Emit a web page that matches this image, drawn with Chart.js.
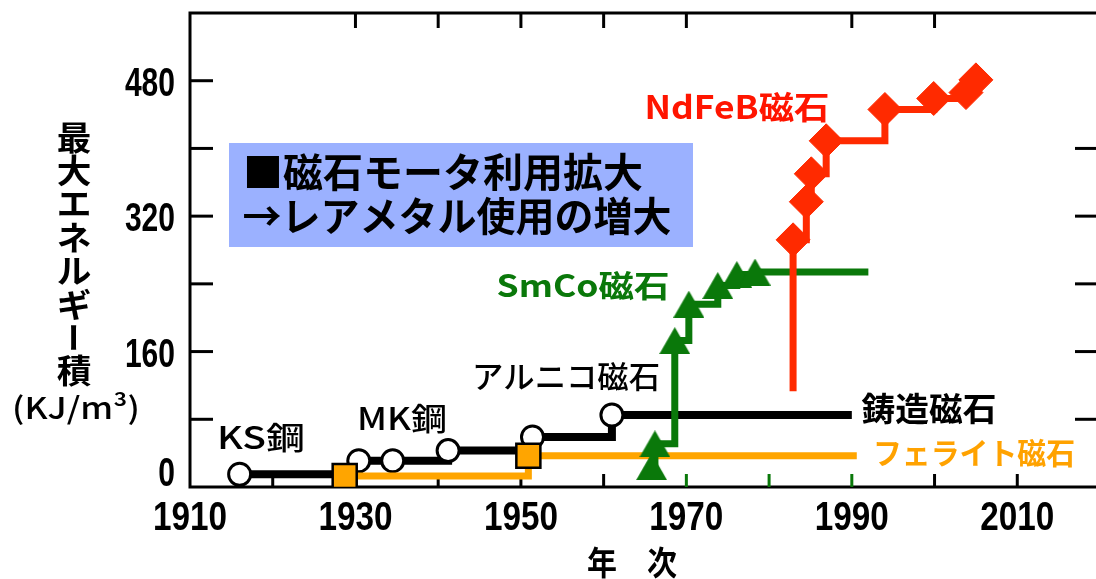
<!DOCTYPE html>
<html lang="ja">
<head>
<meta charset="utf-8">
<title>磁石の最大エネルギー積の推移</title>
<script src="https://cdn.jsdelivr.net/npm/chart.js@4.4.1/dist/chart.umd.min.js"></script>
<style>
  html, body { margin: 0; padding: 0; background: #fff; overflow: hidden; width: 1096px; height: 579px; }
  #magnetChart { display: block; }
</style>
</head>
<body>
<canvas id="magnetChart" width="1110" height="579"></canvas>
<script>
// --- Data ---
// 鋳造磁石 line: KS鋼, MK鋼, アルニコ ...
const castYears = [1916, 1930.4, 1934.5, 1941.2, 1951.4, 1961, 1990];
const castValues = [15, 31, 31, 43, 59, 85, 85];
// フェライト磁石
const ferriteYears = [1928.7, 1950.9, 1990.6];
const ferriteValues = [13, 37, 37];
// SmCo磁石
const smcoYears = [1965.8, 1966.2, 1968.6, 1970.3, 1973.8, 1976.1, 1978.3, 1992];
const smcoValues = [24, 51, 173, 216, 238, 251, 254, 254];
// NdFeB磁石
const ndfebYears = [1982.9, 1982.9, 1984.5, 1985.1, 1986.9, 1994, 1999.9, 2003.8, 2005];
const ndfebValues = [113, 292, 337, 370, 409, 446, 459, 466, 481];

// axis ticks
const xLabelYears = [1910, 1930, 1950, 1970, 1990, 2010];
const yLabelValues = [0, 160, 320, 480];
const leftTickValues = [80, 160, 240, 320, 400, 480];
const rightTickValues = [80, 160, 240, 320, 400];
const topTickYears = [1930, 1940, 1950, 1960, 1970, 1990, 2000];
const bottomTickYears = [1920, 1930, 1940, 1950, 1960, 1970, 1980, 1990, 2000, 2010];
const greenTickYears = [1970, 1980, 1990];

const JP = '"Noto Sans CJK JP", "Noto Sans", sans-serif';
const NUM = '"Liberation Sans", Arial, sans-serif';

const BLACK = '#000000';
const ORANGE = '#ffa500';
const GREEN = '#0a780a';
const RED = '#ff2a00';

// --- Helpers ---
function toPoints(xs, ys) {
    return xs.map((x, i) => ({ x: x, y: ys[i] }));
}

// triangle marker centred on its bounding box
function triangleMarker(w, h, color) {
    const c = document.createElement('canvas');
    c.width = w;
    c.height = h;
    const g = c.getContext('2d');
    g.fillStyle = color;
    g.beginPath();
    g.moveTo(w / 2, 0);
    g.lineTo(w, h);
    g.lineTo(0, h);
    g.closePath();
    g.fill();
    return c;
}

// draw text squeezed / stretched to width w; (x, y) anchor follows align / baseline
function fitText(ctx, text, x, y, w, font, color, align, baseline) {
    ctx.save();
    ctx.font = font;
    ctx.fillStyle = color;
    ctx.textAlign = align || 'center';
    ctx.textBaseline = baseline || 'middle';
    const m = ctx.measureText(text).width;
    ctx.translate(x, y);
    ctx.scale(w / m, 1);
    ctx.fillText(text, 0, 0);
    ctx.restore();
}

function tickLine(ctx, x1, y1, x2, y2) {
    ctx.beginPath();
    ctx.moveTo(x1, y1);
    ctx.lineTo(x2, y2);
    ctx.stroke();
}

function noPadding(s) {
    s.paddingLeft = 0;
    s.paddingRight = 0;
    s.paddingTop = 0;
    s.paddingBottom = 0;
}

// --- Plugins ---
const framePlugin = {
    id: 'frame',
    beforeDatasetsDraw(chart) {
        const { ctx, chartArea: a, scales: { x, y } } = chart;
        ctx.save();
        ctx.strokeStyle = BLACK;
        ctx.lineWidth = 3;
        ctx.strokeRect(a.left, a.top, a.right - a.left, a.bottom - a.top);
        leftTickValues.forEach(v => {
            const py = y.getPixelForValue(v);
            tickLine(ctx, a.left, py, a.left + 23, py);
        });
        rightTickValues.forEach(v => {
            const py = y.getPixelForValue(v);
            tickLine(ctx, a.right - 25, py, a.right, py);
        });
        topTickYears.forEach(v => {
            const px = x.getPixelForValue(v);
            tickLine(ctx, px, a.top, px, a.top + 15);
        });
        bottomTickYears.forEach(v => {
            const px = x.getPixelForValue(v);
            ctx.strokeStyle = greenTickYears.includes(v) ? GREEN : BLACK;
            tickLine(ctx, px, a.bottom, px, a.bottom - 13);
        });
        ctx.restore();

        // tick labels (narrow bold digits)
        xLabelYears.forEach(v => {
            fitText(ctx, String(v), x.getPixelForValue(v), a.bottom + 43, 74,
                'bold 40px ' + NUM, BLACK, 'center', 'alphabetic');
        });
        yLabelValues.forEach(v => {
            const s = String(v);
            const lift = v === 0 ? 16 : 0;
            fitText(ctx, s, a.left - 15, y.getPixelForValue(v) + 15 - lift, 16.7 * s.length,
                'bold 40px ' + NUM, BLACK, 'right', 'alphabetic');
        });
    }
};

const notesPlugin = {
    id: 'notes',
    afterDraw(chart) {
        const ctx = chart.ctx;

        // blue message box
        ctx.save();
        ctx.fillStyle = '#9bb1ff';
        ctx.fillRect(229, 143, 464, 104);
        ctx.restore();
        fitText(ctx, '■磁石モータ利用拡大', 443, 172, 400, 'bold 40px ' + JP, BLACK);
        fitText(ctx, '→レアメタル使用の増大', 457, 216, 429, 'bold 40px ' + JP, BLACK);

        // series labels
        fitText(ctx, 'KS鋼', 261, 437, 88, '500 31px ' + JP, BLACK);
        fitText(ctx, 'MK鋼', 402, 418, 90, '500 31px ' + JP, BLACK);
        fitText(ctx, 'アルニコ磁石', 566, 376, 188, '500 31px ' + JP, BLACK);
        fitText(ctx, 'SmCo磁石', 583, 285, 173, 'bold 31px ' + JP, GREEN);
        fitText(ctx, 'NdFeB磁石', 737, 107, 185, 'bold 32px ' + JP, '#ff1500');
        fitText(ctx, '鋳造磁石', 929, 408, 135, 'bold 33px ' + JP, BLACK);
        fitText(ctx, 'フェライト磁石', 974, 453, 202, 'bold 30px ' + JP, '#ffa200');

        // axis titles
        fitText(ctx, '年　次', 632, 562, 90, 'bold 33px ' + JP, BLACK);
        const chars = '最大エネルギー積'.split('');
        chars.forEach((ch, i) => {
            const cy = 137 + 33.4 * i;
            if (ch === 'ー') {
                ctx.save();
                ctx.translate(74, cy);
                ctx.rotate(Math.PI / 2);
                fitText(ctx, ch, 0, 0, 30, 'bold 33px ' + JP, BLACK);
                ctx.restore();
            } else {
                ctx.save();
                ctx.font = 'bold 33px ' + JP;
                const w = ctx.measureText(ch).width * 1.05;
                ctx.restore();
                fitText(ctx, ch, 74, cy, w, 'bold 33px ' + JP, BLACK);
            }
        });
        fitText(ctx, '(KJ/m³)', 76, 408, 128, '500 30px ' + JP, BLACK);
    }
};

// --- Chart ---
const canvas = document.getElementById('magnetChart');

new Chart(canvas, {
    type: 'line',
    data: {
        datasets: [{
            label: 'NdFeB磁石',
            data: toPoints(ndfebYears, ndfebValues),
            borderColor: RED,
            borderWidth: 7,
            stepped: 'before',
            pointStyle: 'rectRot',
            pointRadius: ndfebYears.map((v, i) => (i === 0 ? 0 : 17)),
            pointBackgroundColor: RED,
            pointBorderColor: RED,
            pointBorderWidth: 1
        }, {
            label: 'SmCo磁石',
            data: toPoints(smcoYears, smcoValues),
            borderColor: GREEN,
            borderWidth: 7,
            stepped: 'before',
            pointStyle: triangleMarker(31, 27, GREEN),
            pointRadius: smcoYears.map((v, i) => (i === smcoYears.length - 1 ? 0 : 15))
        }, {
            label: 'フェライト磁石',
            data: toPoints(ferriteYears, ferriteValues),
            borderColor: ORANGE,
            borderWidth: 7,
            stepped: 'before',
            pointStyle: 'rect',
            pointRadius: ferriteYears.map((v, i) => (i === ferriteYears.length - 1 ? 0 : 17)),
            pointBackgroundColor: ORANGE,
            pointBorderColor: BLACK,
            pointBorderWidth: 2.5
        }, {
            label: '鋳造磁石',
            data: toPoints(castYears, castValues),
            borderColor: BLACK,
            borderWidth: 8,
            stepped: 'before',
            pointStyle: 'circle',
            pointRadius: castYears.map((v, i) => (i === castYears.length - 1 ? 0 : 11)),
            pointBackgroundColor: '#ffffff',
            pointBorderColor: BLACK,
            pointBorderWidth: 3
        }]
    },
    options: {
        responsive: false,
        animation: false,
        layout: { autoPadding: false, padding: { left: 0, top: 13, right: 10, bottom: 0 } },
        scales: {
            x: {
                type: 'linear',
                min: 1910,
                max: 2020,
                grid: { display: false },
                border: { display: false },
                ticks: { display: false, stepSize: 10 },
                afterFit: s => { s.height = 92; noPadding(s); }
            },
            y: {
                min: 0,
                max: 560,
                grid: { display: false },
                border: { display: false },
                ticks: { display: false, stepSize: 80 },
                afterFit: s => { s.width = 190; noPadding(s); }
            }
        },
        plugins: {
            legend: { display: false },
            tooltip: { enabled: false }
        }
    },
    plugins: [framePlugin, notesPlugin]
});
</script>
</body>
</html>
